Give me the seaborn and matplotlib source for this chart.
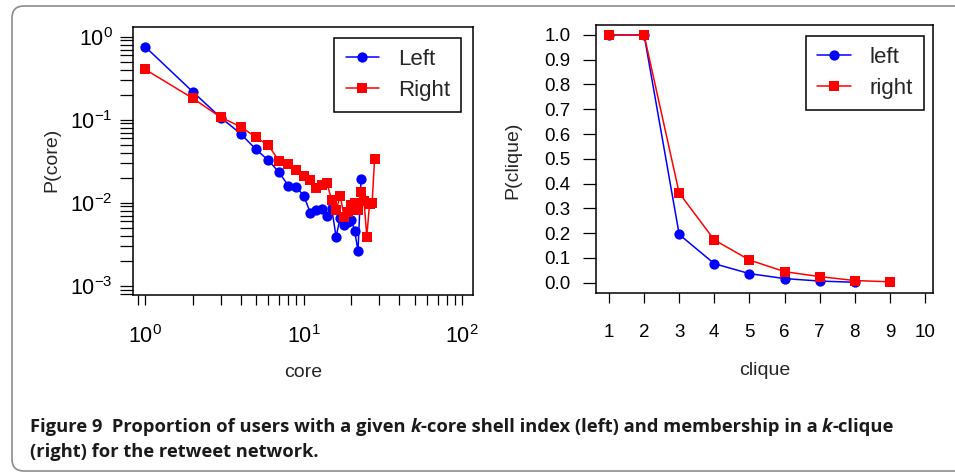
import math
import matplotlib
matplotlib.use("Agg")
import matplotlib.pyplot as plt
import matplotlib.transforms as mtransforms
import seaborn as sns
from matplotlib import font_manager
from matplotlib.patches import FancyBboxPatch
from matplotlib.ticker import LogLocator, NullFormatter, MultipleLocator, FuncFormatter

# values
core_left = list(range(1, 24))
p_core_left = [0.76, 0.217, 0.106, 0.068, 0.044, 0.0323, 0.0232, 0.0160, 0.0153, 0.0122,
               0.0076, 0.0081, 0.0085, 0.0069, 0.0087, 0.0039, 0.0066, 0.0054, 0.0058,
               0.0062, 0.0045, 0.0026, 0.0194]
core_right = list(range(1, 29))
p_core_right = [0.405, 0.181, 0.107, 0.0824, 0.0614, 0.0490, 0.0318, 0.0294, 0.0248, 0.0208,
                0.0188, 0.0149, 0.0163, 0.0172, 0.0109, 0.0082, 0.0120, 0.0068, 0.0078,
                0.0095, 0.0100, 0.0082, 0.0135, 0.0105, 0.0039, 0.0097, 0.0100, 0.0340]

clique_left = list(range(1, 9))
p_clique_left = [1.0, 1.0, 0.195, 0.077, 0.037, 0.017, 0.007, 0.002]
clique_right = list(range(1, 10))
p_clique_right = [1.0, 1.0, 0.362, 0.173, 0.092, 0.045, 0.025, 0.009, 0.004]

legend_core = ["Left", "Right"]
legend_clique = ["left", "right"]
caption_line1 = [("Figure 9  Proportion of users with a given ", "normal"), ("k", "italic"),
                 ("-core shell index (left) and membership in a ", "normal"), ("k", "italic"),
                 ("-clique", "normal")]
caption_line2 = [("(right) for the retweet network.", "normal")]

sns.set_style("ticks")
plt.rcParams["font.family"] = ["Liberation Sans", "DejaVu Sans"]
plt.rcParams["mathtext.fontset"] = "custom"
plt.rcParams["mathtext.rm"] = "Liberation Sans"

W, H = 955, 473
fig = plt.figure(figsize=(W / 100, H / 100), dpi=100)
fig.patch.set_facecolor("white")

# rounded frame around the whole panel
frame = FancyBboxPatch((12, 2), 1000, 465, boxstyle="round,pad=0,rounding_size=12",
                       transform=mtransforms.IdentityTransform(), fill=False,
                       edgecolor="#8c8c8c", linewidth=1.2)
fig.add_artist(frame)

ax1 = fig.add_axes([132.7 / W, 1 - 295 / H, 340.6 / W, 267.7 / H])
ax2 = fig.add_axes([596 / W, 1 - 292.7 / H, 337 / W, 267.7 / H])

line_kw = dict(linewidth=1.1, markeredgewidth=0)

# left panel: k-core
ax1.set_xscale("log")
ax1.set_yscale("log")
sns.lineplot(x=core_left, y=p_core_left, ax=ax1, color="blue", marker="o", markersize=7.4,
             label=legend_core[0], **line_kw)
sns.lineplot(x=core_right, y=p_core_right, ax=ax1, color="red", marker="s", markersize=6.8,
             label=legend_core[1], **line_kw)
ax1.set_xlim(10 ** -0.0775, 10 ** 2.069)
ax1.set_ylim(10 ** -3.112, 10 ** 0.113)
pow_fmt = FuncFormatter(lambda v, pos: r"$\mathregular{10^{%d}}$" % round(math.log10(v)))
ax1.xaxis.set_major_locator(LogLocator(base=10, numticks=10))
ax1.xaxis.set_minor_locator(LogLocator(base=10, subs=range(2, 10), numticks=20))
ax1.yaxis.set_major_locator(LogLocator(base=10, numticks=10))
ax1.yaxis.set_minor_locator(LogLocator(base=10, subs=range(2, 10), numticks=20))
ax1.xaxis.set_major_formatter(pow_fmt)
ax1.yaxis.set_major_formatter(pow_fmt)
ax1.xaxis.set_minor_formatter(NullFormatter())
ax1.yaxis.set_minor_formatter(NullFormatter())

# right panel: k-clique
sns.lineplot(x=clique_left, y=p_clique_left, ax=ax2, color="blue", marker="o", markersize=7.4,
             label=legend_clique[0], **line_kw)
sns.lineplot(x=clique_right, y=p_clique_right, ax=ax2, color="red", marker="s", markersize=6.8,
             label=legend_clique[1], **line_kw)
ax2.set_xlim(0.63, 10.23)
ax2.set_ylim(-0.04, 1.04)
ax2.xaxis.set_major_locator(MultipleLocator(1))
ax2.yaxis.set_major_locator(MultipleLocator(0.1))
ax2.yaxis.set_major_formatter(matplotlib.ticker.FormatStrFormatter("%.1f"))

for ax in (ax1, ax2):
    for sp in ax.spines.values():
        sp.set_visible(True)
        sp.set_linewidth(1.1)
        sp.set_color("black")
    ax.grid(False)
    ax.tick_params(axis="both", which="both", direction="out", width=0.9, color="black",
                   labelsize=13.5, labelcolor="black")
    ax.tick_params(axis="x", which="both", length=7.5)
    ax.tick_params(axis="y", which="both", length=9.5)

ax1.tick_params(axis="both", labelsize=15.5)
ax1.tick_params(axis="x", pad=14)
ax1.tick_params(axis="y", pad=5)
ax2.tick_params(axis="x", pad=15)
ax2.tick_params(axis="y", pad=9)

ax1.set_xlabel("core", fontsize=14)
ax1.set_ylabel("P(core)", fontsize=14)
ax2.set_xlabel("clique", fontsize=14)
ax2.set_ylabel("P(clique)", fontsize=14)
ax1.xaxis.set_label_coords(0.5, (295 - 372) / 267.7)
ax1.yaxis.set_label_coords((52 - 132.7) / 340.6, (295 - 160) / 267.7)
ax2.xaxis.set_label_coords(0.5, (292.7 - 370) / 267.7)
ax2.yaxis.set_label_coords((513 - 596) / 337, (292.7 - 160) / 267.7)
for ax in (ax1, ax2):
    ax.xaxis.label.set_va("center")
    ax.yaxis.label.set_va("center")

leg_kw = dict(loc="upper right", fontsize=16, frameon=True, fancybox=False,
              edgecolor="black", framealpha=1, borderaxespad=0, handlelength=1.5,
              handletextpad=0.85, borderpad=0.5, labelspacing=0.45)
l1 = ax1.legend(bbox_to_anchor=((461 - 132.7) / 340.6, (295 - 37.7) / 267.7), **leg_kw)
l2 = ax2.legend(bbox_to_anchor=((924 - 596) / 337, (292.7 - 35.7) / 267.7), **leg_kw)
for lg in (l1, l2):
    lg.get_frame().set_linewidth(1.1)

# caption (bold sans, italic k)
names = {f.name for f in font_manager.fontManager.ttflist}
cap_family = "Liberation Sans Narrow" if "Liberation Sans Narrow" in names else "Open Sans"
renderer = fig.canvas.get_renderer()
ident = mtransforms.IdentityTransform()


def seg_width(s, style, size):
    # width including trailing spaces: measure s + "x" minus "x"
    t = fig.text(0, 0, s + "x", fontsize=size, family=cap_family, fontweight="bold",
                 style=style, transform=ident)
    u = fig.text(0, 0, "x", fontsize=size, family=cap_family, fontweight="bold",
                 style=style, transform=ident)
    w = t.get_window_extent(renderer).width - u.get_window_extent(renderer).width
    t.remove()
    u.remove()
    return w


def draw_line(segments, x, y, size):
    for s, style in segments:
        fig.text(x, y, s, fontsize=size, family=cap_family, fontweight="bold", style=style,
                 va="baseline", ha="left", transform=ident, color="#1a1a1a")
        x += seg_width(s, style, size)


base = 10
w0 = sum(seg_width(s, st, base) for s, st in caption_line1)
cap_size = base * 863 / w0
draw_line(caption_line1, 30, H - 431.5, cap_size)
draw_line(caption_line2, 30, H - 456.5, cap_size)

fig.savefig("out.png", dpi=100, facecolor="white")
